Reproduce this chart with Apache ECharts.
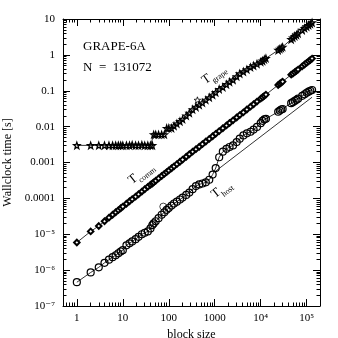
<!DOCTYPE html>
<html>
<head>
<meta charset="utf-8">
<script src="https://cdn.jsdelivr.net/npm/echarts@6/dist/echarts.min.js"></script>
<style>
  html, body { margin: 0; padding: 0; background: #fff; }
  #main { width: 338px; height: 338px; }
</style>
</head>
<body>
<div id="main"></div>
<script>
// block sizes (shared x values)
var blockSize = [1, 2, 3, 4, 5, 6, 7, 8, 9, 10,
  12, 14, 16, 19, 22, 26, 30, 35, 40, 44,
  47, 52, 60, 70, 80, 90, 100, 115, 130, 150,
  175, 200, 240, 280, 330, 390, 460, 540, 640, 760,
  900, 1050, 1250, 1500, 1800, 2100, 2500, 3000, 3500, 4200,
  5000, 6000, 7000, 8300, 10000, 11000, 12000, 13000, 24000, 26000,
  28000, 30000, 46000, 50000, 55000, 60000, 65000, 80000, 90000, 100000,
  110000, 120000, 131072];

var tGrape = [0.003, 0.003, 0.003, 0.003, 0.003, 0.003, 0.003, 0.003, 0.003, 0.003,
  0.003, 0.003, 0.0031, 0.003, 0.003, 0.0031, 0.003, 0.003, 0.003, 0.003,
  0.006, 0.006, 0.006, 0.006, 0.006, 0.009, 0.009, 0.009, 0.0105, 0.012,
  0.014, 0.016, 0.02, 0.024, 0.03, 0.035, 0.04, 0.046, 0.055, 0.065,
  0.076, 0.09, 0.11, 0.125, 0.15, 0.175, 0.2, 0.25, 0.3, 0.34,
  0.39, 0.45, 0.5, 0.56, 0.63, 0.68, 0.75, 0.8, 1.35, 1.45,
  1.55, 1.65, 2.7, 3.0, 3.3, 3.6, 3.95, 4.9, 5.5, 6.1,
  6.7, 7.3, 7.9];

var tComm = [5.9e-6, 1.2e-5, 1.7e-5, 2.3e-5, 2.9e-5, 3.5e-5, 4.1e-5, 4.7e-5, 5.3e-5, 5.9e-5,
  7.1e-5, 8.3e-5, 9.5e-5, 1.12e-4, 1.3e-4, 1.55e-4, 1.8e-4, 2.1e-4, 2.4e-4, 2.6e-4,
  2.8e-4, 3.1e-4, 3.6e-4, 4.2e-4, 4.8e-4, 5.4e-4, 6.0e-4, 6.9e-4, 7.8e-4, 9.0e-4,
  1.05e-3, 1.2e-3, 1.45e-3, 1.7e-3, 2.0e-3, 2.35e-3, 2.75e-3, 3.25e-3, 3.85e-3, 4.55e-3,
  5.4e-3, 6.3e-3, 7.5e-3, 9.0e-3, 0.0108, 0.0126, 0.015, 0.018, 0.021, 0.025,
  0.03, 0.036, 0.042, 0.05, 0.06, 0.066, 0.072, 0.078, 0.145, 0.157,
  0.169, 0.18, 0.28, 0.3, 0.33, 0.36, 0.39, 0.48, 0.54, 0.6,
  0.66, 0.72, 0.79];

var tHost = [4.6e-7, 8.6e-7, 1.2e-6, 1.6e-6, 1.95e-6, 2.3e-6, 2.6e-6, 2.95e-6, 3.3e-6, 3.6e-6,
  4.9e-6, 5.6e-6, 6.3e-6, 7.3e-6, 8.5e-6, 1.0e-5, 1.1e-5, 1.2e-5, 1.45e-5, 1.8e-5,
  2.0e-5, 2.3e-5, 2.8e-5, 3.5e-5, 4.1e-5, 4.8e-5, 5.4e-5, 6.3e-5, 7.2e-5, 8.1e-5,
  9.3e-5, 1.05e-4, 1.25e-4, 1.45e-4, 1.8e-4, 2.2e-4, 2.45e-4, 2.6e-4, 2.8e-4, 3.3e-4,
  4.6e-4, 7.0e-4, 1.4e-3, 2.0e-3, 2.4e-3, 2.7e-3, 3.0e-3, 3.7e-3, 4.6e-3, 5.7e-3,
  6.5e-3, 7.2e-3, 8.3e-3, 9.8e-3, 0.0125, 0.0145, 0.016, 0.0165, 0.026, 0.028,
  0.03, 0.031, 0.045, 0.048, 0.052, 0.056, 0.06, 0.072, 0.08, 0.088,
  0.094, 0.1, 0.105];

// stray points off the main curves
var grapeOddN = [420];
var grapeOddT = [0.055];
var hostOddN = [76];
var hostOddT = [5.9e-5];

// straight host reference line
var fitN = [1000, 131072];
var fitT = [5.5e-4, 0.066];

var xTickExp = [0, 1, 2, 3, 4, 5];
var xTickLabels = ['1', '10', '100', '1000', '10\u2074', '10\u2075'];
var yTickExp = [-7, -6, -5, -4, -3, -2, -1, 0, 1];
var yTickLabels = ['10\u207b\u2077', '10\u207b\u2076', '10\u207b\u2075', '0.0001', '0.001', '0.01', '0.1', '1', '10'];

var lg = Math.log10;
var xMin = lg(0.5), xMax = lg(1.95e5);
var yMin = -7, yMax = 1;

function pts(ns, ts) {
  return ns.map(function (n, i) { return [lg(n), lg(ts[i])]; });
}
function minors(lo, hi) {
  var out = [];
  for (var d = Math.floor(lo); d <= Math.ceil(hi); d++) {
    for (var k = 2; k <= 9; k++) {
      var v = d + lg(k);
      if (v > lo && v < hi) out.push(v);
    }
  }
  return out;
}

var FONT = '"Liberation Serif", "DejaVu Serif", serif';
var star = 'path://M0,-10L2.35,-3.24L9.51,-3.09L3.8,1.24L5.88,8.09L0,4L-5.88,8.09L-3.8,1.24L-9.51,-3.09L-2.35,-3.24Z';
var ring = 'path://M10,0A10,10,0,1,1,-10,0A10,10,0,1,1,10,0Z';

function axisDef(dir, pos, ticks, len, withLine, labels) {
  var a = {
    type: 'value',
    position: pos,
    min: dir === 'x' ? xMin : yMin,
    max: dir === 'x' ? xMax : yMax,
    splitLine: { show: false },
    axisLine: { show: withLine, onZero: false, lineStyle: { color: '#000', width: 1 } },
    axisTick: { show: true, inside: true, length: len, customValues: ticks,
      lineStyle: { color: '#000', width: 1 } },
    axisLabel: { show: false }
  };
  if (labels) {
    var exps = dir === 'x' ? xTickExp : yTickExp;
    var txt = dir === 'x' ? xTickLabels : yTickLabels;
    a.axisLabel = {
      show: true, customValues: exps, color: '#000', fontFamily: FONT, fontSize: 11,
      margin: dir === 'x' ? 7 : 8,
      formatter: function (v) { return txt[exps.indexOf(Math.round(v))]; }
    };
  }
  return a;
}

var xMinor = minors(xMin, xMax);
var yMinor = minors(yMin, yMax);

var xAxes = [
  axisDef('x', 'bottom', xTickExp, 7, true, true),
  axisDef('x', 'bottom', xMinor, 3.5, false, false),
  axisDef('x', 'top', xTickExp, 7, true, false),
  axisDef('x', 'top', xMinor, 3.5, false, false)
];
xAxes[0].name = 'block size';
xAxes[0].nameLocation = 'middle';
xAxes[0].nameGap = 21;
xAxes[0].nameTextStyle = { color: '#000', fontFamily: FONT, fontSize: 12 };

var yAxes = [
  axisDef('y', 'left', yTickExp, 7, true, true),
  axisDef('y', 'left', yMinor, 3.5, false, false),
  axisDef('y', 'right', yTickExp, 7, true, false),
  axisDef('y', 'right', yMinor, 3.5, false, false)
];
yAxes[0].name = 'Wallclock time [s]';
yAxes[0].nameLocation = 'middle';
yAxes[0].nameGap = 48;
yAxes[0].nameTextStyle = { color: '#000', fontFamily: FONT, fontSize: 12 };

function tLabel(x, y, rot, sub) {
  return {
    type: 'group', x: x, y: y, rotation: rot,
    children: [
      { type: 'text', style: { x: 0, y: 0, text: 'T', font: '13px ' + FONT, fill: '#000', verticalAlign: 'bottom' } },
      { type: 'text', style: { x: 8, y: 3, text: sub, font: '8px ' + FONT, fill: '#000', verticalAlign: 'bottom' } }
    ]
  };
}

var chart = echarts.init(document.getElementById('main'), null, { renderer: 'canvas' });
chart.setOption({
  animation: false,
  backgroundColor: '#fff',
  grid: { left: 63, top: 19, width: 257, height: 287, outerBoundsMode: 'none', containLabel: false },
  xAxis: xAxes,
  yAxis: yAxes,
  graphic: [
    { type: 'text', left: 83, top: 40, style: { text: 'GRAPE-6A', font: '13px ' + FONT, fill: '#000' } },
    { type: 'text', left: 83, top: 61, style: { text: 'N  =  131072', font: '13px ' + FONT, fill: '#000' } },
    tLabel(207, 87, 0.62, 'grape'),
    tLabel(134, 187, 0.66, 'comm'),
    tLabel(217, 201, 0.66, 'host')
  ],
  series: [
    {
      type: 'line', data: pts(blockSize, tGrape),
      symbol: star, symbolSize: 6.5,
      itemStyle: { color: 'rgba(0,0,0,0)', borderColor: '#000', borderWidth: 1.2 },
      lineStyle: { color: '#000', width: 0.8 }
    },
    {
      type: 'scatter', data: pts(grapeOddN, grapeOddT),
      symbol: star, symbolSize: 6.5,
      itemStyle: { color: 'rgba(0,0,0,0)', borderColor: '#000', borderWidth: 1 }
    },
    {
      type: 'line', data: pts(blockSize, tComm),
      symbol: 'emptyDiamond', symbolSize: 5.5,
      itemStyle: { color: '#000', borderColor: '#000', borderWidth: 1 },
      lineStyle: { color: '#000', width: 0.8 }
    },
    {
      type: 'line', data: pts(blockSize, tHost),
      symbol: ring, symbolSize: 7,
      itemStyle: { color: 'rgba(0,0,0,0)', borderColor: '#000', borderWidth: 1.2 },
      lineStyle: { color: '#000', width: 0.8 }
    },
    {
      type: 'scatter', data: pts(hostOddN, hostOddT),
      symbol: ring, symbolSize: 7,
      itemStyle: { color: 'rgba(0,0,0,0)', borderColor: '#000', borderWidth: 0.9 }
    },
    {
      type: 'line', data: pts(fitN, fitT), symbol: 'none',
      lineStyle: { color: '#000', width: 0.8 }
    }
  ]
});
</script>
</body>
</html>
